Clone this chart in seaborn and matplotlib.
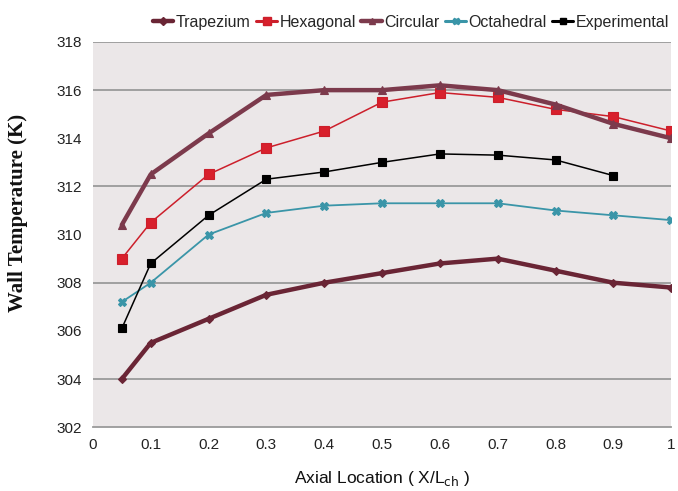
import numpy as np
import pandas as pd
import seaborn as sns
import matplotlib.pyplot as plt
from matplotlib.lines import Line2D

# data
x = [0.05, 0.1, 0.2, 0.3, 0.4, 0.5, 0.6, 0.7, 0.8, 0.9, 1.0]
trapezium = [304.0, 305.5, 306.5, 307.5, 308.0, 308.4, 308.8, 309.0, 308.5, 308.0, 307.8]
hexagonal = [309.0, 310.5, 312.5, 313.6, 314.3, 315.5, 315.9, 315.7, 315.2, 314.9, 314.3]
circular = [310.4, 312.5, 314.2, 315.8, 316.0, 316.0, 316.2, 316.0, 315.4, 314.6, 314.0]
octahedral = [307.2, 308.0, 310.0, 310.9, 311.2, 311.3, 311.3, 311.3, 311.0, 310.8, 310.6]
x_exp = [0.05, 0.1, 0.2, 0.3, 0.4, 0.5, 0.6, 0.7, 0.8, 0.9]
experimental = [306.1, 308.8, 310.8, 312.3, 312.6, 313.0, 313.35, 313.3, 313.1, 312.45]

x_ticks = [0, 0.1, 0.2, 0.3, 0.4, 0.5, 0.6, 0.7, 0.8, 0.9, 1]
x_ticklabels = ["0", "0.1", "0.2", "0.3", "0.4", "0.5", "0.6", "0.7", "0.8", "0.9", "1"]
y_ticks = [302, 304, 306, 308, 310, 312, 314, 316, 318]

sns.set_style("white")
plt.rcParams['font.family'] = ['Liberation Sans', 'DejaVu Sans']

fig = plt.figure(figsize=(6.78, 4.91), dpi=100)
ax = fig.add_axes([0.137, 0.130, 0.853, 0.7845])
ax.set_facecolor("#ebe7e8")

# series styling: (label, xs, ys, color, marker, lw, ms, mfc)
series = [
    ("Trapezium", x, trapezium, "#6a2535", "D", 3.2, 4.5, "#6a2535"),
    ("Hexagonal", x, hexagonal, "#cc1f2b", "s", 1.1, 6.5, "#d8202c"),
    ("Circular", x, circular, "#7c3a4c", "^", 3.2, 6, "#7c3a4c"),
    ("Octahedral", x, octahedral, "#3a95a8", "X", 1.3, 6, "#3a95a8"),
    ("Experimental", x_exp, experimental, "#000000", "s", 1.1, 5.5, "#000000"),
]

handles = []
for label, xs, ys, color, marker, lw, ms, mfc in series:
    df = pd.DataFrame({"x": xs, "y": ys})
    sns.lineplot(data=df, x="x", y="y", ax=ax, color=color, lw=lw,
                 marker=marker, markersize=ms, markerfacecolor=mfc,
                 markeredgecolor=color, markeredgewidth=0.8, zorder=3)
    handles.append(Line2D([0], [0], color=color, lw=max(lw, 2.2), marker=marker,
                          markersize=ms * 0.8, markerfacecolor=mfc, markeredgecolor=color))

# gridlines as they appear in the reference
for yv in [304, 308, 312, 316, 318]:
    ax.axhline(yv, color="#9a9a9a", lw=1.3, zorder=1)

ax.set_xlim(0, 1)
ax.set_ylim(302, 318)
ax.set_xticks(x_ticks)
ax.set_xticklabels(x_ticklabels)
ax.set_yticks(y_ticks)
ax.tick_params(axis="both", length=0, labelsize=11, labelcolor="#222222", pad=8)
ax.set_xticks([0.1, 0.3, 0.6, 0.8, 1.0], minor=True)
ax.tick_params(axis="x", which="minor", length=4, color="#9a9a9a", direction="out")

for side in ["top", "right", "left"]:
    ax.spines[side].set_visible(False)
ax.spines["bottom"].set_color("#9a9a9a")
ax.spines["bottom"].set_linewidth(1.3)

ax.set_xlabel("Axial Location ( X/L$_{\\rm ch}$ )", fontsize=12.5, color="#111111", labelpad=12)
ax.set_ylabel("Wall Temperature (K)", fontsize=15, fontweight="bold",
              family="Liberation Serif", color="#111111")
ax.yaxis.set_label_coords(-0.113, 0.556)

fig.legend(handles, [s[0] for s in series], loc="upper right",
           bbox_to_anchor=(1.003, 0.993), ncol=5, frameon=False, fontsize=11.5,
           handlelength=1.3, handletextpad=0.15, columnspacing=0.35,
           borderaxespad=0.3)

fig.savefig("out.png", dpi=100)
